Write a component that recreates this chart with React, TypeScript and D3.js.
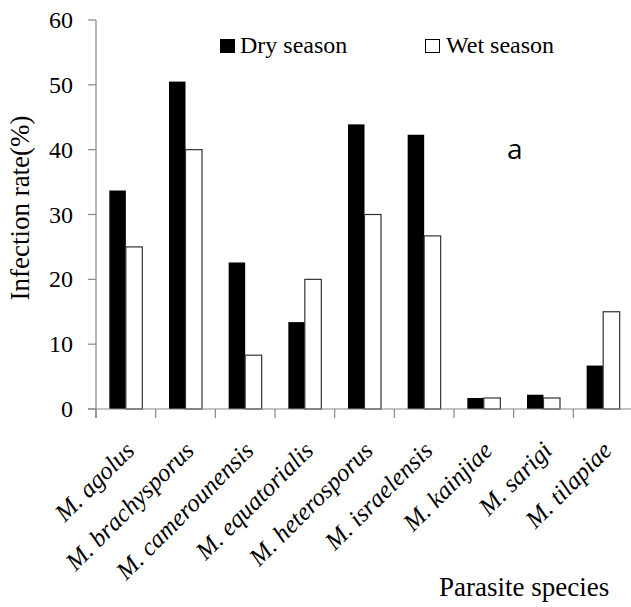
import React from "react";
import * as d3 from "d3";

const categories = [
  "M. agolus",
  "M. brachysporus",
  "M. camerounensis",
  "M. equatorialis",
  "M. heterosporus",
  "M. israelensis",
  "M. kainjiae",
  "M. sarigi",
  "M. tilapiae",
];
const drySeason = [33.7, 50.5, 22.6, 13.4, 43.9, 42.3, 1.7, 2.2, 6.7];
const wetSeason = [25.0, 40.0, 8.3, 20.0, 30.0, 26.7, 1.7, 1.7, 15.0];
const yTicks = [0, 10, 20, 30, 40, 50, 60];
const seriesNames = ["Dry season", "Wet season"];

const W = 631;
const H = 607;
const SERIF = "Liberation Serif";
const axisColor = "#868686";

export default function App() {
  const y = d3.scaleLinear().domain([0, 60]).range([409, 20]);
  const x = d3
    .scaleBand<string>()
    .domain(categories)
    .range([96, 633])
    .paddingInner(0.447)
    .paddingOuter(0.2235);
  const bw = x.bandwidth() / 2;
  const step = x.step();
  const x0 = 96;
  const boundaries = d3.range(categories.length + 1).map((i) => x0 + i * step);

  return (
    <svg width={W} height={H} style={{ position: "absolute", left: 0, top: 0, background: "#fff" }}>
      {/* y axis */}
      <line x1={96} x2={96} y1={y(60)} y2={418} stroke={axisColor} strokeWidth={1.2} />
      {yTicks.map((t) => (
        <g key={t}>
          <line x1={88} x2={96} y1={y(t)} y2={y(t)} stroke={axisColor} strokeWidth={1.2} />
          <text x={73} y={y(t) + 8} textAnchor="end" fontFamily={SERIF} fontSize={24} fill="#000">
            {t}
          </text>
        </g>
      ))}
      {/* bars */}
      {categories.map((c, i) => (
        <g key={c}>
          <rect x={x(c)!} y={y(drySeason[i])} width={bw} height={y(0) - y(drySeason[i])} fill="#000" />
          <rect
            x={x(c)! + bw}
            y={y(wetSeason[i])}
            width={bw}
            height={y(0) - y(wetSeason[i])}
            fill="#fff"
            stroke="#333"
            strokeWidth={1.2}
          />
        </g>
      ))}
      {/* x axis */}
      <line x1={88} x2={W} y1={y(0)} y2={y(0)} stroke={axisColor} strokeWidth={1.2} />
      {boundaries.map((b, i) => (
        <line key={i} x1={b} x2={b} y1={y(0)} y2={418} stroke={axisColor} strokeWidth={1.2} />
      ))}
      {categories.map((c) => (
        <text
          key={c}
          transform={`translate(${x(c)! + bw + 10},452) rotate(-45)`}
          textAnchor="end"
          fontFamily={SERIF}
          fontSize={25}
          fontStyle="italic"
          fill="#000"
        >
          {c}
        </text>
      ))}
      {/* axis titles */}
      <text
        transform="translate(29,208) rotate(-90)"
        textAnchor="middle"
        fontFamily={SERIF}
        fontSize={27}
        fill="#000"
      >
        Infection rate(%)
      </text>
      <text x={439} y={596} fontFamily={SERIF} fontSize={27} fill="#000">
        Parasite species
      </text>
      {/* legend */}
      <rect x={220} y={39} width={15} height={14} fill="#000" />
      <text x={240} y={53} fontFamily={SERIF} fontSize={24} fill="#000">
        {seriesNames[0]}
      </text>
      <rect x={425.5} y={39.5} width={14} height={13} fill="#fff" stroke="#000" strokeWidth={1} />
      <text x={446} y={53} fontFamily={SERIF} fontSize={24} fill="#000">
        {seriesNames[1]}
      </text>
      {/* panel letter */}
      <text x={507} y={159} fontFamily="Open Sans" fontSize={28} fill="#000">
        a
      </text>
    </svg>
  );
}
